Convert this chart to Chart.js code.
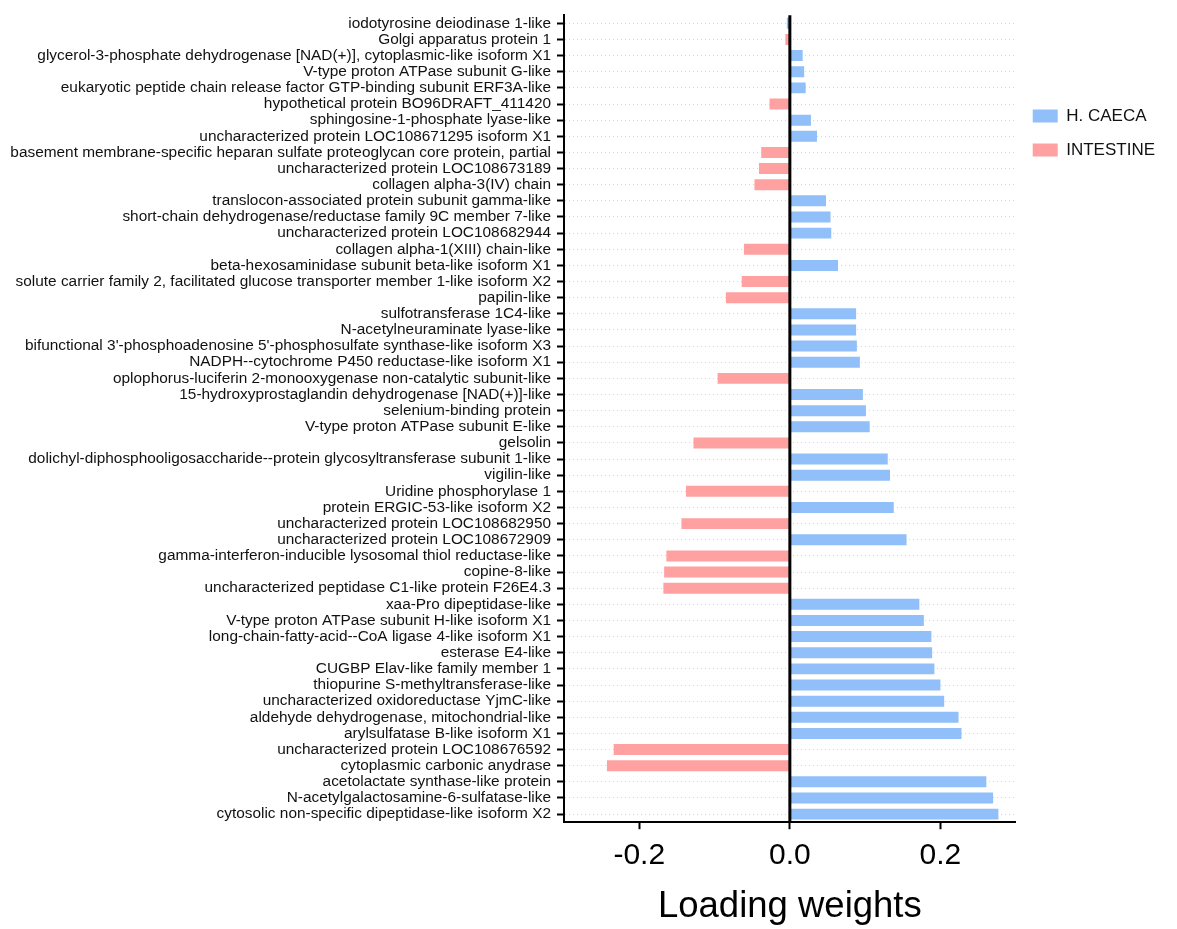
<!DOCTYPE html>
<html>
<head>
<meta charset="utf-8">
<title>Loading weights</title>
<script src="https://cdn.jsdelivr.net/npm/chart.js@4.4.1/dist/chart.umd.min.js"></script>
<style>
  html, body { margin: 0; padding: 0; background: #fff; }
</style>
</head>
<body>
<canvas id="chart" width="1177" height="929"></canvas>
<script>
// proteins, top to bottom
const proteins = [
  'iodotyrosine deiodinase 1-like',
  'Golgi apparatus protein 1',
  'glycerol-3-phosphate dehydrogenase [NAD(+)], cytoplasmic-like isoform X1',
  'V-type proton ATPase subunit G-like',
  'eukaryotic peptide chain release factor GTP-binding subunit ERF3A-like',
  'hypothetical protein BO96DRAFT_411420',
  'sphingosine-1-phosphate lyase-like',
  'uncharacterized protein LOC108671295 isoform X1',
  'basement membrane-specific heparan sulfate proteoglycan core protein, partial',
  'uncharacterized protein LOC108673189',
  'collagen alpha-3(IV) chain',
  'translocon-associated protein subunit gamma-like',
  'short-chain dehydrogenase/reductase family 9C member 7-like',
  'uncharacterized protein LOC108682944',
  'collagen alpha-1(XIII) chain-like',
  'beta-hexosaminidase subunit beta-like isoform X1',
  'solute carrier family 2, facilitated glucose transporter member 1-like isoform X2',
  'papilin-like',
  'sulfotransferase 1C4-like',
  'N-acetylneuraminate lyase-like',
  "bifunctional 3'-phosphoadenosine 5'-phosphosulfate synthase-like isoform X3",
  'NADPH--cytochrome P450 reductase-like isoform X1',
  'oplophorus-luciferin 2-monooxygenase non-catalytic subunit-like',
  '15-hydroxyprostaglandin dehydrogenase [NAD(+)]-like',
  'selenium-binding protein',
  'V-type proton ATPase subunit E-like',
  'gelsolin',
  'dolichyl-diphosphooligosaccharide--protein glycosyltransferase subunit 1-like',
  'vigilin-like',
  'Uridine phosphorylase 1',
  'protein ERGIC-53-like isoform X2',
  'uncharacterized protein LOC108682950',
  'uncharacterized protein LOC108672909',
  'gamma-interferon-inducible lysosomal thiol reductase-like',
  'copine-8-like',
  'uncharacterized peptidase C1-like protein F26E4.3',
  'xaa-Pro dipeptidase-like',
  'V-type proton ATPase subunit H-like isoform X1',
  'long-chain-fatty-acid--CoA ligase 4-like isoform X1',
  'esterase E4-like',
  'CUGBP Elav-like family member 1',
  'thiopurine S-methyltransferase-like',
  'uncharacterized oxidoreductase YjmC-like',
  'aldehyde dehydrogenase, mitochondrial-like',
  'arylsulfatase B-like isoform X1',
  'uncharacterized protein LOC108676592',
  'cytoplasmic carbonic anydrase',
  'acetolactate synthase-like protein',
  'N-acetylgalactosamine-6-sulfatase-like',
  'cytosolic non-specific dipeptidase-like isoform X2'
];

// loading weight of each protein
const loadings = [
  -0.004, -0.006, 0.017, 0.019, 0.021, -0.027, 0.028, 0.036, -0.038, -0.041,
  -0.047, 0.048, 0.054, 0.055, -0.061, 0.064, -0.064, -0.085, 0.088, 0.088,
  0.089, 0.093, -0.096, 0.097, 0.101, 0.106, -0.128, 0.130, 0.133, -0.138,
  0.138, -0.144, 0.155, -0.164, -0.167, -0.168, 0.172, 0.178, 0.188, 0.189,
  0.192, 0.200, 0.205, 0.224, 0.228, -0.234, -0.243, 0.261, 0.270, 0.277
];

// tissue of each protein (H = H. CAECA, I = INTESTINE)
const tissue = [
  'H', 'I', 'H', 'H', 'H', 'I', 'H', 'H', 'I', 'I',
  'I', 'H', 'H', 'H', 'I', 'H', 'I', 'I', 'H', 'H',
  'H', 'H', 'I', 'H', 'H', 'H', 'I', 'H', 'H', 'I',
  'H', 'I', 'H', 'I', 'I', 'I', 'H', 'H', 'H', 'H',
  'H', 'H', 'H', 'H', 'H', 'I', 'I', 'H', 'H', 'H'
];

const seriesNames = { H: 'H. CAECA', I: 'INTESTINE' };
const seriesColors = { H: '#90bff9', I: '#ffa1a1' };

const xTicks = [-0.2, 0, 0.2];

const fontFamily = 'Arial, "Liberation Sans", Helvetica, sans-serif';

// thick black line at zero, drawn over the bars
const zeroLine = {
  id: 'zeroLine',
  afterDatasetsDraw(chart) {
    const { ctx, chartArea, scales } = chart;
    const x = scales.x.getPixelForValue(0);
    ctx.save();
    ctx.strokeStyle = '#000';
    ctx.lineWidth = 3;
    ctx.beginPath();
    ctx.moveTo(x, chartArea.top);
    ctx.lineTo(x, chartArea.bottom);
    ctx.stroke();
    ctx.restore();
  }
};

const datasets = ['H', 'I'].map(key => ({
  label: seriesNames[key],
  data: loadings.map((v, i) => (tissue[i] === key ? v : null)),
  backgroundColor: seriesColors[key],
  borderWidth: 0,
  barPercentage: 0.68,
  categoryPercentage: 1
}));

Chart.defaults.font.family = fontFamily;

new Chart(document.getElementById('chart'), {
  type: 'bar',
  data: { labels: proteins, datasets },
  options: {
    indexAxis: 'y',
    responsive: false,
    animation: false,
    grouped: false,
    layout: { padding: { top: 14, left: 10, right: 12, bottom: 0 } },
    plugins: {
      tooltip: { enabled: false },
      legend: {
        position: 'right',
        align: 'start',
        title: { display: true, text: '', padding: { top: 62, bottom: 0 }, font: { size: 12 } },
        labels: {
          boxWidth: 25,
          boxHeight: 13,
          padding: 17,
          color: '#111',
          font: { size: 17 }
        }
      }
    },
    scales: {
      x: {
        min: -0.3,
        max: 0.3,
        afterBuildTicks: axis => { axis.ticks = xTicks.map(v => ({ value: v })); },
        grid: {
          drawOnChartArea: false,
          tickLength: 7,
          tickWidth: 2,
          tickColor: '#000'
        },
        border: { display: true, color: '#000', width: 2 },
        ticks: {
          padding: 9,
          color: '#000',
          font: { size: 30 },
          callback: v => Number(v).toFixed(1)
        },
        title: {
          display: true,
          text: 'Loading weights',
          color: '#000',
          font: { size: 36.5 },
          padding: { top: 2, bottom: 0 }
        }
      },
      y: {
        afterFit: scale => { scale.width = 554; },
        grid: {
          offset: false,
          color: '#d6d6d6',
          lineWidth: 1,
          tickLength: 7,
          tickWidth: 2,
          tickColor: '#000'
        },
        border: { display: true, color: '#000', width: 2, dash: [1, 3] },
        ticks: {
          autoSkip: false,
          padding: 6,
          color: '#111',
          font: { size: 15.4 }
        }
      }
    }
  },
  plugins: [zeroLine]
});
</script>
</body>
</html>
